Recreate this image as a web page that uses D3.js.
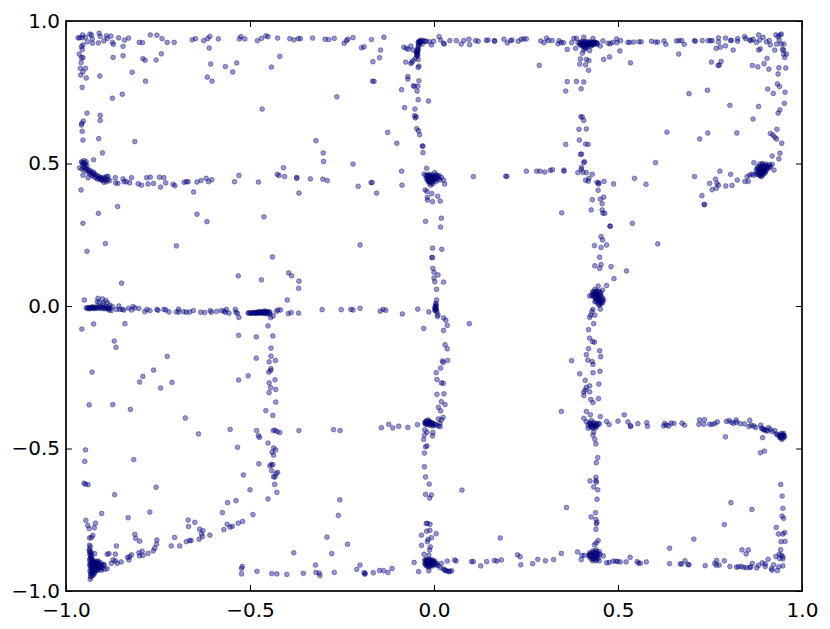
<!DOCTYPE html>
<html>
<head>
<meta charset="utf-8">
<script src="https://cdn.jsdelivr.net/npm/d3@7"></script>
<style>
  body { margin: 0; background: #fff; }
  .axis text { font-family: "DejaVu Sans", sans-serif; font-size: 20px; fill: #000; }
</style>
</head>
<body>
<svg id="main"></svg>
<script>
// values, one list per region of the plot: [x, y]
var tickValues = [-1, -0.5, 0, 0.5, 1];

var topLeft = [[-.967,.941],[-.963,.941],[-.955,.951],[-.956,.941],[-.947,.943],[-.942,.927],[-.935,.954],[-.931,.951],[-.929,.937],[-.928,.922],[-.912,.923],[-.910,.957],[-.907,.946],[-.897,.930],[-.890,.948],[-.888,.939],[-.878,.947],[-.874,.925],[-.871,.918],[-.857,.941],[-.845,.911],[-.841,.933],[-.830,.940],[-.801,.925],[-.792,.924],[-.771,.951],[-.753,.950],[-.739,.938],[-.725,.925],[-.706,.925],[-.657,.934],[-.648,.938],[-.626,.931],[-.615,.938],[-.609,.946],[-.611,.905],[-.586,.937],[-.529,.937],[-.525,.945],[-.514,.937],[-.480,.931],[-.469,.939],[-.457,.948],[-.451,.945],[-.425,.940],[-.392,.938],[-.381,.934],[-.369,.938],[-.363,.938],[-.330,.940],[-.296,.936],[-.286,.935],[-.271,.939],[-.244,.922],[-.238,.931],[-.234,.936],[-.220,.942],[-.197,.906],[-.190,.909],[-.170,.935],[-.136,.943],[-.145,.898],[-.148,.871],[-.166,.857],[-.167,.789],[-.163,.788],[-.264,.734]];

var leftColumn = [[-.958,.910],[-.954,.916],[-.956,.900],[-.964,.884],[-.958,.871],[-.954,.871],[-.959,.854],[-.961,.834],[-.947,.834],[-.954,.822],[-.960,.810],[-.945,.800],[-.956,.767],[-.908,.807],[-.872,.872],[-.845,.878],[-.820,.820],[-.791,.868],[-.785,.862],[-.784,.789],[-.755,.863],[-.741,.885],[-.607,.849],[-.567,.840],[-.547,.821],[-.536,.853],[-.616,.803],[-.603,.789],[-.442,.838],[-.419,.876],[-.874,.729],[-.847,.743],[-.467,.691],[-.943,.677],[-.907,.669],[-.907,.651],[-.953,.649],[-.957,.641],[-.958,.635],[-.956,.613],[-.954,.582],[-.911,.587],[-.813,.577],[-.901,.537],[-.925,.513]];

var leftRow = [[-.958,.506],[-.951,.510],[-.945,.506],[-.954,.498],[-.947,.497],[-.963,.485],[-.957,.480],[-.945,.480],[-.940,.477],[-.936,.471],[-.931,.469],[-.927,.465],[-.922,.462],[-.917,.459],[-.913,.455],[-.908,.452],[-.904,.450],[-.899,.448],[-.895,.450],[-.890,.454],[-.886,.455],[-.954,.459],[-.940,.450],[-.915,.445],[-.904,.442],[-.897,.434],[-.890,.436],[-.881,.440],[-.866,.450],[-.865,.432],[-.859,.430],[-.845,.446],[-.842,.436],[-.836,.436],[-.827,.432],[-.822,.450],[-.804,.429],[-.795,.424],[-.781,.450],[-.777,.428],[-.771,.452],[-.762,.430],[-.746,.452],[-.734,.450],[-.729,.432],[-.743,.417],[-.709,.427],[-.704,.422],[-.679,.434],[-.673,.436],[-.668,.436],[-.653,.400],[-.644,.435],[-.633,.440],[-.619,.448],[-.613,.436],[-.604,.443],[-.542,.436],[-.530,.458],[-.477,.435],[-.426,.462],[-.421,.458],[-.409,.485],[-.406,.454],[-.373,.451],[-.373,.448],[-.336,.446],[-.367,.396],[-.959,.407],[-.302,.445],[-.290,.440],[-.206,.420],[-.171,.433],[-.168,.433],[-.156,.396],[-.321,.580],[-.301,.537],[-.300,.507],[-.220,.498],[-.126,.609],[-.101,.571]];

var leftRowDense = [[-.956,.503],[-.950,.500],[-.953,.488],[-.948,.486],[-.943,.492],[-.950,.476],[-.941,.470],[-.935,.463],[-.930,.458],[-.925,.455],[-.920,.451],[-.911,.447],[-.906,.445],[-.900,.441],[-.893,.443],[-.886,.444],[-.925,.470],[-.935,.477]];

var scatterUpperMid = [[-.912,.325],[-.860,.349],[-.954,.290],[-.644,.322],[-.617,.296],[-.893,.219],[-.943,.192],[-.700,.211],[-.462,.313],[-.201,.214],[-.439,.172],[-.395,.116],[-.387,.106],[-.367,.087],[-.368,.062],[-.532,.106],[-.469,.092],[-.849,.080],[-.399,.021],[-.950,.021]];

var midRow = [[-.945,-.006],[-.937,-.007],[-.934,-.005],[-.930,-.008],[-.927,-.005],[-.922,-.009],[-.917,-.002],[-.913,.027],[-.915,.015],[-.910,.012],[-.901,.025],[-.899,.009],[-.892,.019],[-.888,.012],[-.881,.003],[-.874,-.002],[-.908,-.005],[-.904,-.009],[-.898,-.007],[-.890,-.008],[-.883,-.014],[-.877,-.016],[-.863,-.012],[-.856,0],[-.854,-.012],[-.847,-.012],[-.843,-.014],[-.830,-.008],[-.822,-.014],[-.818,-.002],[-.813,-.007],[-.802,-.009],[-.786,-.020],[-.780,-.012],[-.772,-.016],[-.753,-.012],[-.750,-.015],[-.734,-.012],[-.729,-.014],[-.720,-.021],[-.700,-.021],[-.694,-.011],[-.693,-.021],[-.680,-.020],[-.673,-.022],[-.664,-.021],[-.654,-.016],[-.634,-.022],[-.623,-.023],[-.608,-.016],[-.605,-.022],[-.591,-.019],[-.578,-.016],[-.571,-.018],[-.564,-.012],[-.567,-.022],[-.557,-.025],[-.540,-.012],[-.538,-.022],[-.534,-.026],[-.530,-.040],[-.505,-.025],[-.499,-.025],[-.492,-.024],[-.484,-.022],[-.478,-.021],[-.474,-.020],[-.468,-.021],[-.463,-.018],[-.457,-.018],[-.451,-.020],[-.446,-.021],[-.496,-.026],[-.483,-.026],[-.471,-.026],[-.460,-.027],[-.454,-.027],[-.446,-.028],[-.437,-.035],[-.444,-.041],[-.428,-.019],[-.424,-.014],[-.417,-.014],[-.396,-.027],[-.388,-.023],[-.368,-.025],[-.304,-.013],[-.252,-.013],[-.226,-.012],[-.220,-.014],[-.201,-.008],[-.146,-.018],[-.138,-.012],[-.131,-.015],[-.940,-.007],[-.925,-.007],[-.912,-.006],[-.895,-.010],[-.885,-.010],[-.488,-.024],[-.480,-.024],[-.470,-.023],[-.465,-.022],[-.458,-.022]];

var midRowDense = [[-.942,-.009],[-.935,-.010],[-.928,-.003],[-.920,-.006],[-.915,-.008],[-.906,-.003],[-.900,.002],[-.893,-.004],[-.886,-.003],[-.880,-.008],[-.503,-.024],[-.494,-.023],[-.486,-.025],[-.476,-.024],[-.466,-.024],[-.461,-.023],[-.455,-.024],[-.449,-.024]];

var scatterLowerLeft = [[-.957,-.081],[-.925,-.063],[-.840,-.062],[-.451,-.070],[-.531,-.103],[-.483,-.108],[-.438,-.105],[-.869,-.123],[-.864,-.145],[-.443,-.148],[-.725,-.177],[-.483,-.183],[-.443,-.176],[-.431,-.191],[-.448,-.196],[-.929,-.232],[-.762,-.225],[-.791,-.247],[-.800,-.267],[-.712,-.268],[-.743,-.288],[-.531,-.260],[-.505,-.245],[-.443,-.220],[-.444,-.226],[-.449,-.232],[-.432,-.259],[-.448,-.270],[-.444,-.286],[-.430,-.293],[-.448,-.304],[-.937,-.347],[-.873,-.346],[-.825,-.363],[-.676,-.393],[-.640,-.449],[-.554,-.433],[-.534,-.496],[-.947,-.505],[-.949,-.545],[-.816,-.539],[-.951,-.622],[-.947,-.625],[-.940,-.627],[-.755,-.636],[-.868,-.662],[-.903,-.728],[-.831,-.743],[-.772,-.723],[-.946,-.752],[-.941,-.770],[-.937,-.781],[-.923,-.778],[-.920,-.762],[-.927,-.805],[-.936,-.814],[-.931,-.813]];

var diagonalLeg = [[-.668,-.751],[-.650,-.759],[-.667,-.774],[-.705,-.812],[-.714,-.842],[-.691,-.842],[-.673,-.827],[-.664,-.823],[-.660,-.823],[-.638,-.818],[-.637,-.783],[-.628,-.788],[-.632,-.800],[-.629,-.809],[-.609,-.804],[-.575,-.725],[-.561,-.690],[-.538,-.683],[-.562,-.766],[-.554,-.776],[-.548,-.773],[-.571,-.785],[-.532,-.762],[-.813,-.801],[-.811,-.815],[-.800,-.825],[-.753,-.821],[-.754,-.836],[-.759,-.850],[-.763,-.859],[-.777,-.868],[-.793,-.860],[-.791,-.875],[-.802,-.866],[-.800,-.877],[-.822,-.873],[-.827,-.880],[-.833,-.882],[-.829,-.891],[-.850,-.898],[-.863,-.842],[-.866,-.871],[-.888,-.871],[-.883,-.869],[-.866,-.894],[-.872,-.891],[-.877,-.903],[-.861,-.903],[-.922,-.869]];

var cornerBottomLeft = [[-.936,-.839],[-.937,-.854],[-.935,-.866],[-.933,-.877],[-.931,-.887],[-.936,-.891],[-.929,-.900],[-.936,-.909],[-.924,-.894],[-.917,-.903],[-.927,-.915],[-.933,-.921],[-.920,-.924],[-.913,-.912],[-.906,-.901],[-.902,-.909],[-.897,-.907],[-.913,-.927],[-.927,-.932],[-.933,-.940],[-.922,-.938],[-.933,-.950],[-.934,-.959],[-.904,-.927],[-.895,-.924],[-.888,-.922],[-.897,-.910],[-.930,-.895],[-.925,-.905],[-.920,-.912],[-.915,-.895],[-.928,-.925],[-.935,-.930],[-.918,-.920],[-.910,-.905],[-.905,-.915],[-.930,-.880],[-.934,-.900],[-.926,-.945],[-.932,-.912],[-.922,-.900],[-.913,-.918],[-.934,-.845],[-.936,-.860],[-.931,-.870],[-.929,-.908],[-.923,-.930]];

var cornerBottomLeftDense = [[-.934,-.885],[-.930,-.890],[-.927,-.897],[-.933,-.905],[-.926,-.910],[-.931,-.917],[-.924,-.918],[-.930,-.928],[-.926,-.935],[-.932,-.935],[-.928,-.942],[-.931,-.948],[-.918,-.908],[-.914,-.904],[-.909,-.912],[-.916,-.926],[-.908,-.922],[-.902,-.919],[-.920,-.930],[-.923,-.922],[-.918,-.898],[-.911,-.897],[-.935,-.873],[-.932,-.862]];

var innerColumnLeft = [[-.430,-.337],[-.457,-.367],[-.438,-.384],[-.482,-.437],[-.437,-.437],[-.432,-.436],[-.426,-.441],[-.419,-.444],[-.367,-.437],[-.273,-.434],[-.255,-.437],[-.477,-.455],[-.474,-.461],[-.451,-.481],[-.436,-.498],[-.430,-.505],[-.440,-.513],[-.436,-.523],[-.476,-.554],[-.446,-.561],[-.442,-.556],[-.438,-.557],[-.441,-.578],[-.518,-.593],[-.425,-.584],[-.429,-.588],[-.436,-.599],[-.432,-.600],[-.433,-.626],[-.427,-.654],[-.500,-.645],[-.451,-.677],[-.256,-.680],[-.260,-.735],[-.492,-.732],[-.520,-.756],[-.291,-.811],[-.235,-.836],[-.381,-.866],[-.278,-.869]];

var bottomRowLeft = [[-.521,-.914],[-.523,-.921],[-.523,-.940],[-.481,-.931],[-.441,-.939],[-.427,-.940],[-.400,-.942],[-.355,-.938],[-.322,-.909],[-.321,-.935],[-.312,-.937],[-.310,-.946],[-.271,-.935],[-.210,-.924],[-.201,-.909],[-.190,-.936],[-.188,-.941],[-.187,-.938],[-.165,-.936],[-.148,-.928],[-.137,-.929],[-.125,-.935],[-.114,-.921]];

var centerBelowHalf = [[.020,-.336],[.030,-.346],[.012,-.356],[.018,-.368],[-.143,-.427],[-.123,-.415],[-.112,-.428],[-.096,-.422],[-.071,-.426],[-.045,-.416],[-.025,-.409],[-.021,-.403],[-.016,-.400],[-.012,-.406],[-.007,-.409],[-.003,-.412],[.002,-.414],[-.021,-.414],[-.012,-.418],[-.004,-.421],[.006,-.418],[.012,-.421],[.016,-.412],[.020,-.400],[.025,-.391],[.012,-.396],[.017,-.423],[-.016,-.412],[-.010,-.414],[-.025,-.435],[-.019,-.443],[-.003,-.444],[-.026,-.453],[-.004,-.456],[-.028,-.468],[-.023,-.494],[-.019,-.491],[-.026,-.516],[-.026,-.564],[-.023,-.600],[-.013,-.625],[-.023,-.661],[-.012,-.674],[-.007,-.663],[.076,-.646],[-.021,-.763],[-.018,-.763],[-.011,-.766],[-.020,-.790],[-.011,-.787],[.006,-.799],[-.034,-.804],[-.007,-.813],[-.016,-.819],[-.018,-.827],[-.034,-.840],[-.010,-.845],[-.012,-.856],[-.027,-.871],[-.014,-.874]];

var centerBelowHalfDense = [[-.023,-.407],[-.019,-.409],[-.014,-.405],[-.009,-.411],[-.005,-.415],[-.018,-.416],[-.012,-.410],[-.001,-.417],[-.024,-.414]];

var cornerBottomCenter = [[-.025,-.891],[-.021,-.889],[-.014,-.889],[-.004,-.891],[.002,-.895],[.007,-.903],[-.025,-.903],[-.019,-.901],[-.012,-.901],[-.004,-.903],[-.021,-.911],[-.012,-.915],[-.003,-.912],[-.014,-.929],[.011,-.911],[.017,-.918],[.025,-.923],[.029,-.926],[.036,-.930],[.043,-.931],[.048,-.929],[.020,-.903],[.036,-.895],[-.054,-.900],[-.042,-.932],[.056,-.891],[.060,-.895],[.102,-.897],[.107,-.897],[.127,-.912],[.143,-.897],[.164,-.893],[.171,-.895],[.183,-.891],[.180,-.814],[.227,-.873],[.234,-.880],[.236,-.908],[.268,-.904],[.282,-.889],[.303,-.894],[.325,-.890],[.346,-.868],[-.018,-.895],[-.008,-.897],[-.016,-.906],[-.007,-.908]];

var cornerBottomCenterDense = [[-.023,-.896],[-.020,-.893],[-.015,-.893],[-.010,-.890],[-.006,-.895],[-.001,-.898],[-.023,-.907],[-.017,-.898],[-.011,-.905],[-.004,-.899],[-.001,-.906],[.003,-.903],[-.019,-.906],[-.015,-.911],[-.008,-.911],[-.017,-.915],[.031,-.928],[.040,-.932],[.006,-.908]];

var rightColumnLow = [[.346,-.370],[.414,-.370],[.432,-.339],[.407,-.394],[.425,-.382],[.452,-.388],[.414,-.406],[.419,-.418],[.423,-.409],[.428,-.402],[.432,-.412],[.437,-.418],[.441,-.414],[.446,-.412],[.426,-.423],[.432,-.428],[.440,-.426],[.419,-.429],[.450,-.414],[.434,-.442],[.432,-.453],[.437,-.468],[.440,-.484],[.445,-.532],[.441,-.550],[.440,-.601],[.440,-.613],[.441,-.618],[.424,-.614],[.434,-.635],[.445,-.645],[.443,-.678],[.360,-.707],[.439,-.725],[.427,-.740],[.440,-.749],[.443,-.759],[.441,-.765],[.440,-.784],[.446,-.823],[.441,-.831],[.436,-.838],[.423,-.866],[.432,-.859],[.441,-.856],[.449,-.862],[.428,-.874],[.437,-.870],[.446,-.874],[.423,-.882],[.432,-.886],[.441,-.889],[.449,-.894],[.431,-.894],[.421,-.874],[.437,-.880],[.390,-.863],[.402,-.875],[.409,-.875],[.400,-.890],[.460,-.877],[.469,-.901],[.476,-.900],[.487,-.895],[.494,-.896],[.499,-.896],[.469,-.405],[.476,-.416],[.500,-.404]];

var rightColumnLowDense = [[.424,-.414],[.430,-.420],[.426,-.416],[.435,-.409],[.438,-.424],[.428,-.425],[.443,-.420],[.425,-.870],[.430,-.867],[.435,-.863],[.440,-.862],[.445,-.867],[.426,-.878],[.432,-.877],[.439,-.875],[.443,-.880],[.435,-.887],[.446,-.885],[.428,-.888],[.440,-.894],[.451,-.871],[.423,-.875]];

var lowerRightRow = [[.517,-.382],[.527,-.407],[.534,-.423],[.534,-.420],[.554,-.413],[.578,-.409],[.580,-.422],[.624,-.421],[.627,-.412],[.631,-.418],[.638,-.421],[.644,-.411],[.652,-.412],[.674,-.411],[.681,-.418],[.720,-.415],[.722,-.400],[.733,-.415],[.735,-.399],[.749,-.415],[.756,-.415],[.763,-.413],[.770,-.407],[.795,-.405],[.802,-.402],[.808,-.408],[.814,-.412],[.821,-.400],[.822,-.408],[.832,-.413],[.844,-.414],[.856,-.423],[.858,-.401],[.862,-.418],[.869,-.421],[.874,-.426],[.888,-.418],[.890,-.429],[.896,-.435],[.903,-.437],[.909,-.427],[.914,-.433],[.919,-.441],[.926,-.437],[.930,-.449],[.938,-.453],[.944,-.447],[.948,-.456],[.953,-.459],[.939,-.461],[.946,-.468],[.950,-.447],[.944,-.459],[.792,-.459],[.893,-.462],[.898,-.509],[.887,-.515],[.893,-.431],[.899,-.433],[.906,-.439],[.933,-.452],[.941,-.455],[.947,-.451],[.951,-.454],[.943,-.464],[.949,-.462]];

var lowerRightEdge = [[.942,-.626],[.946,-.667],[.948,-.710],[.946,-.737],[.950,-.745],[.807,-.690],[.864,-.714],[.789,-.767],[.930,-.777],[.936,-.800],[.948,-.800],[.953,-.795],[.943,-.827],[.954,-.826],[.706,-.818],[.640,-.850],[.837,-.856],[.848,-.870],[.854,-.856],[.942,-.855],[.506,-.898],[.522,-.898],[.533,-.882],[.552,-.897],[.556,-.902],[.561,-.903],[.577,-.898],[.640,-.904],[.669,-.905],[.673,-.905],[.682,-.894],[.690,-.907],[.693,-.908],[.737,-.911],[.763,-.903],[.768,-.893],[.767,-.910],[.775,-.909],[.789,-.894],[.804,-.914],[.822,-.916],[.827,-.915],[.835,-.914],[.842,-.917],[.849,-.918],[.858,-.918],[.861,-.915],[.865,-.903],[.877,-.919],[.882,-.910],[.892,-.901],[.900,-.914],[.900,-.905],[.908,-.889],[.917,-.922],[.923,-.908],[.919,-.927],[.933,-.928],[.937,-.915],[.948,-.912],[.929,-.879],[.938,-.871],[.944,-.874],[.948,-.880],[.939,-.886],[.948,-.887]];

var cornerTopCenter = [[-.082,.908],[-.075,.904],[-.070,.901],[-.063,.912],[-.057,.898],[-.077,.856],[-.063,.851],[-.060,.855],[-.057,.861],[-.050,.869],[-.043,.865],[-.041,.842],[-.043,.837],[-.046,.877],[-.046,.886],[-.043,.896],[-.043,.908],[-.041,.919],[-.041,.929],[-.034,.933],[-.028,.931],[-.037,.924],[-.048,.892],[-.044,.881],[-.032,.919],[-.021,.929],[-.012,.927],[-.007,.916],[-.001,.929],[-.040,.925],[-.044,.902],[-.046,.890],[-.042,.914],[-.038,.930],[-.043,.925],[-.047,.882],[-.045,.897],[-.036,.928],[-.025,.928]];

var topCenterRow = [[.014,.945],[.018,.933],[.028,.919],[.026,.922],[.043,.931],[.061,.931],[.074,.919],[.081,.931],[.095,.936],[.097,.917],[.113,.931],[.120,.929],[.142,.932],[.147,.933],[.164,.931],[.165,.929],[.190,.936],[.199,.923],[.208,.931],[.212,.933],[.229,.929],[.237,.936],[.244,.937],[.251,.937],[.290,.930],[.299,.924],[.306,.940],[.311,.931],[.321,.932],[.286,.844],[.337,.920],[.340,.931]];

var centerAboveHalf = [[-.071,.805],[-.071,.796],[-.041,.790],[-.088,.759],[-.056,.772],[-.053,.771],[-.044,.771],[-.046,.754],[-.043,.724],[-.015,.719],[-.080,.696],[-.052,.691],[-.053,.668],[-.048,.664],[-.051,.660],[-.047,.622],[-.042,.615],[-.039,.601],[-.030,.561],[-.032,.561],[-.030,.538],[-.020,.483],[-.088,.473],[-.087,.424]];

var centerHalfCluster = [[-.027,.463],[-.018,.460],[-.012,.462],[-.004,.460],[.002,.468],[.006,.460],[.014,.457],[.020,.451],[-.021,.448],[-.014,.450],[-.007,.448],[-.001,.450],[.006,.444],[.016,.442],[.026,.442],[.029,.428],[-.016,.437],[-.010,.436],[-.003,.438],[.005,.436],[-.010,.424],[-.004,.428],[-.024,.407],[-.019,.402],[-.006,.394],[-.018,.381],[-.018,.372],[-.004,.366],[.010,.385],[.017,.368],[.020,.308],[-.013,.443],[-.006,.455],[.001,.443]];

var centerHalfDense = [[-.022,.458],[-.017,.455],[-.011,.457],[-.009,.451],[-.003,.454],[.003,.456],[.009,.452],[.012,.447],[-.018,.443],[-.011,.446],[-.004,.444],[.002,.447],[-.013,.438],[-.007,.440],[-.012,.432],[-.006,.433],[.010,.456],[-.016,.450]];

var centerRowHalf = [[.107,.454],[.195,.455],[.198,.455],[.251,.473],[.279,.473],[.288,.473],[.301,.470],[.316,.476],[.322,.478],[.347,.327]];

var topRightCluster = [[.346,.924],[.352,.924],[.374,.924],[.380,.939],[.387,.939],[.385,.904],[.362,.900],[.391,.924],[.396,.919],[.400,.927],[.405,.922],[.410,.924],[.414,.916],[.419,.922],[.423,.924],[.428,.919],[.432,.924],[.437,.919],[.441,.924],[.398,.915],[.407,.912],[.419,.912],[.430,.915],[.432,.939],[.407,.943],[.412,.904],[.423,.896],[.407,.898],[.403,.887],[.452,.912],[.459,.930],[.473,.922],[.479,.920],[.485,.925],[.496,.937],[.497,.924],[.507,.931],[.505,.895],[.398,.867],[.414,.865],[.421,.861],[.396,.849],[.412,.846],[.420,.827],[.461,.865],[.477,.874],[.534,.853],[.402,.921],[.412,.919],[.416,.926],[.425,.921],[.435,.922]];

var topRightDense = [[.397,.925],[.401,.917],[.404,.927],[.408,.917],[.411,.928],[.415,.921],[.418,.917],[.421,.927],[.424,.918],[.427,.926],[.431,.918],[.434,.926],[.438,.925],[.442,.918],[.444,.922],[.404,.912],[.414,.910],[.426,.912],[.410,.906]];

var topRightRow = [[.527,.925],[.532,.925],[.543,.926],[.557,.927],[.563,.927],[.591,.929],[.602,.926],[.608,.926],[.625,.930],[.630,.918],[.659,.930],[.666,.931],[.673,.931],[.680,.918],[.665,.884],[.708,.931],[.710,.929],[.729,.931],[.745,.931],[.751,.931],[.756,.931],[.773,.941],[.773,.926],[.792,.940],[.806,.932],[.808,.932],[.825,.938],[.825,.929],[.844,.945],[.847,.938],[.858,.933],[.861,.931],[.867,.936],[.882,.951],[.876,.925],[.885,.933],[.894,.943],[.903,.927],[.911,.931],[.914,.916],[.929,.951],[.931,.919],[.935,.945],[.940,.951],[.944,.954],[.938,.933],[.944,.919],[.951,.919],[.947,.900],[.950,.898],[.926,.898],[.950,.884],[.958,.884],[.953,.872],[.882,.898],[.887,.902],[.767,.904],[.778,.908],[.792,.913],[.813,.898],[.754,.856],[.780,.858],[.775,.845],[.772,.844]];

var upperRightEdge = [[.905,.869],[.865,.844],[.880,.839],[.897,.850],[.910,.831],[.937,.836],[.956,.835],[.935,.814],[.933,.779],[.939,.770],[.907,.761],[.922,.746],[.954,.750],[.952,.711],[.882,.700],[.940,.688],[.935,.677],[.867,.656],[.932,.620],[.914,.605],[.921,.600],[.926,.592],[.931,.586],[.945,.571],[.940,.536],[.919,.526],[.937,.516],[.693,.745],[.743,.757],[.804,.704],[.633,.610],[.722,.586],[.744,.607],[.823,.607],[.602,.503],[.545,.448],[.576,.427],[.708,.454],[.728,.387],[.734,.356],[.735,.356],[.608,.218]];

var rightHalfCluster = [[.749,.430],[.765,.445],[.777,.473],[.806,.462],[.824,.442],[.845,.437],[.854,.437],[.851,.454],[.858,.459],[.864,.463],[.869,.503],[.756,.408],[.769,.430],[.773,.424],[.767,.413],[.793,.421],[.810,.423],[.924,.477],[.876,.477],[.881,.489],[.885,.498],[.892,.500],[.901,.498],[.911,.496],[.919,.497],[.883,.468],[.890,.477],[.896,.483],[.903,.486],[.885,.459],[.894,.463],[.901,.471],[.876,.463],[.890,.454],[.869,.459],[.912,.486],[.896,.471],[.892,.489],[.888,.470],[.893,.478],[.898,.475]];

var rightHalfDense = [[.879,.470],[.882,.480],[.884,.474],[.886,.485],[.887,.464],[.889,.492],[.890,.483],[.892,.468],[.894,.494],[.895,.476],[.897,.490],[.899,.466],[.899,.481],[.902,.492],[.904,.478],[.906,.491],[.881,.462],[.886,.457],[.892,.459],[.908,.484],[.914,.491],[.878,.484]];

var rightColumnHigh = [[.362,.787],[.387,.788],[.407,.786],[.358,.754],[.400,.762],[.399,.664],[.403,.663],[.407,.651],[.394,.620],[.414,.621],[.395,.582],[.358,.567],[.412,.568],[.419,.567],[.398,.532],[.401,.533],[.409,.506],[.407,.504],[.401,.486],[.400,.479],[.353,.477],[.353,.473],[.391,.468],[.405,.469],[.414,.468],[.430,.462],[.412,.441],[.421,.448],[.419,.438],[.443,.434],[.448,.432],[.447,.428],[.462,.437],[.488,.428],[.446,.406],[.430,.373],[.452,.375],[.461,.382],[.457,.359],[.427,.337],[.457,.337],[.459,.326],[.464,.325]];

var centerColumnMid = [[-.023,.297],[.018,.277],[-.004,.203],[.021,.199],[-.006,.170],[-.004,.170],[-.003,.132],[0,.118],[.011,.109],[0,.098],[.002,.085],[.026,.084],[.007,.058],[.007,.021],[.005,.009],[.006,0],[.002,-.005],[.006,-.010],[.004,-.017],[.008,-.021],[.011,-.032],[.009,-.037],[.002,-.014],[-.014,-.021],[-.044,-.011],[-.086,-.028],[.026,-.042],[.032,-.050],[.036,-.068],[-.028,-.079],[.026,-.086],[.096,-.062],[.030,-.136],[.036,-.150],[.023,-.193],[.025,-.198],[.037,-.191],[.018,-.218],[.006,-.234],[.008,-.258],[.020,-.270],[.025,-.271],[.008,-.310],[.027,-.308],[.004,-.003],[.006,-.012],[.005,.004]];

var rightColumnMid = [[.478,.280],[.479,.280],[.539,.290],[.454,.243],[.458,.232],[.436,.212],[.454,.205],[.469,.214],[.450,.171],[.437,.141],[.454,.145],[.450,.132],[.481,.138],[.523,.123],[.489,.096],[.469,.072],[.423,.035],[.431,.050],[.437,.058],[.446,.070],[.458,.056],[.428,.038],[.434,.042],[.441,.047],[.449,.044],[.437,.030],[.443,.033],[.450,.030],[.458,.027],[.461,.021],[.440,.021],[.446,.019],[.455,.009],[.450,.003],[.437,.015],[.452,-.011],[.432,-.012],[.429,-.019],[.437,-.032],[.426,-.032],[.423,-.040],[.434,-.062],[.420,-.083],[.423,-.113],[.431,-.125],[.436,-.127],[.420,-.150],[.450,-.157],[.414,-.171],[.453,-.178],[.418,-.190],[.430,-.195],[.432,-.205],[.374,-.192],[.396,-.238],[.432,-.234],[.451,-.229],[.411,-.261],[.448,-.274],[.423,-.280],[.414,-.286],[.411,-.295],[.423,-.301],[.407,-.302],[.407,-.314],[.426,-.328],[.447,-.325],[.442,.036],[.447,.026],[.440,.040],[.452,.038]];

var rightColumnMidDense = [[.433,.046],[.438,.050],[.443,.053],[.448,.051],[.453,.047],[.432,.034],[.436,.038],[.446,.037],[.455,.034],[.439,.028],[.444,.024],[.452,.022],[.457,.018],[.442,.014],[.449,.011],[.453,.014],[.458,.012],[.447,.005]];

var points = [].concat(topLeft, leftColumn, leftRow, leftRowDense, scatterUpperMid, midRow, midRowDense, scatterLowerLeft,
  diagonalLeg, cornerBottomLeft, cornerBottomLeftDense, innerColumnLeft, bottomRowLeft, centerBelowHalf, centerBelowHalfDense,
  cornerBottomCenter, cornerBottomCenterDense, rightColumnLow, rightColumnLowDense, lowerRightRow, lowerRightEdge,
  cornerTopCenter, topCenterRow, centerAboveHalf, centerHalfCluster, centerHalfDense, centerRowHalf, topRightCluster,
  topRightDense, topRightRow, upperRightEdge, rightHalfCluster, rightHalfDense, rightColumnHigh, centerColumnMid,
  rightColumnMid, rightColumnMidDense);

var w = 830;
var h = 629;
var paddingLeft = 66;
var paddingRight = 28;
var paddingTop = 21;
var paddingBottom = 38;

var svg = d3.select("#main")
  .attr("width", w)
  .attr("height", h);

var xScale = d3.scaleLinear()
  .domain([-1, 1])
  .range([paddingLeft, w - paddingRight]);

var yScale = d3.scaleLinear()
  .domain([-1, 1])
  .range([h - paddingBottom, paddingTop]);

var fmt = function(d) { return d3.format(".1f")(d).replace("-", "\u2212"); };

svg.append("g")
  .selectAll("circle")
  .data(points)
  .enter()
  .append("circle")
  .attr("cx", function(d) { return xScale(d[0]); })
  .attr("cy", function(d) { return yScale(d[1]); })
  .attr("r", 2.4)
  .attr("fill", "#0000a0")
  .attr("fill-opacity", 0.42)
  .attr("stroke", "#000040")
  .attr("stroke-opacity", 0.45)
  .attr("stroke-width", 0.8);

// ticks point inward on all four sides
var xBottom = d3.axisBottom(xScale).tickValues(tickValues).tickSizeInner(-6).tickSizeOuter(0).tickPadding(12).tickFormat(fmt);
var xTop = d3.axisTop(xScale).tickValues(tickValues).tickSizeInner(-6).tickSizeOuter(0).tickFormat("");
var yLeft = d3.axisLeft(yScale).tickValues(tickValues).tickSizeInner(-6).tickSizeOuter(0).tickPadding(6).tickFormat(fmt);
var yRight = d3.axisRight(yScale).tickValues(tickValues).tickSizeInner(-6).tickSizeOuter(0).tickFormat("");

svg.append("g").attr("class", "axis").attr("transform", "translate(0," + (h - paddingBottom) + ")").call(xBottom);
svg.append("g").attr("class", "axis").attr("transform", "translate(0," + paddingTop + ")").call(xTop);
svg.append("g").attr("class", "axis").attr("transform", "translate(" + paddingLeft + ",0)").call(yLeft);
svg.append("g").attr("class", "axis").attr("transform", "translate(" + (w - paddingRight) + ",0)").call(yRight);

svg.selectAll(".axis .domain").attr("stroke", "none");

svg.append("rect")
  .attr("x", paddingLeft)
  .attr("y", paddingTop)
  .attr("width", w - paddingLeft - paddingRight)
  .attr("height", h - paddingTop - paddingBottom)
  .attr("fill", "none")
  .attr("stroke", "#000")
  .attr("stroke-width", 1.7);
</script>
</body>
</html>
